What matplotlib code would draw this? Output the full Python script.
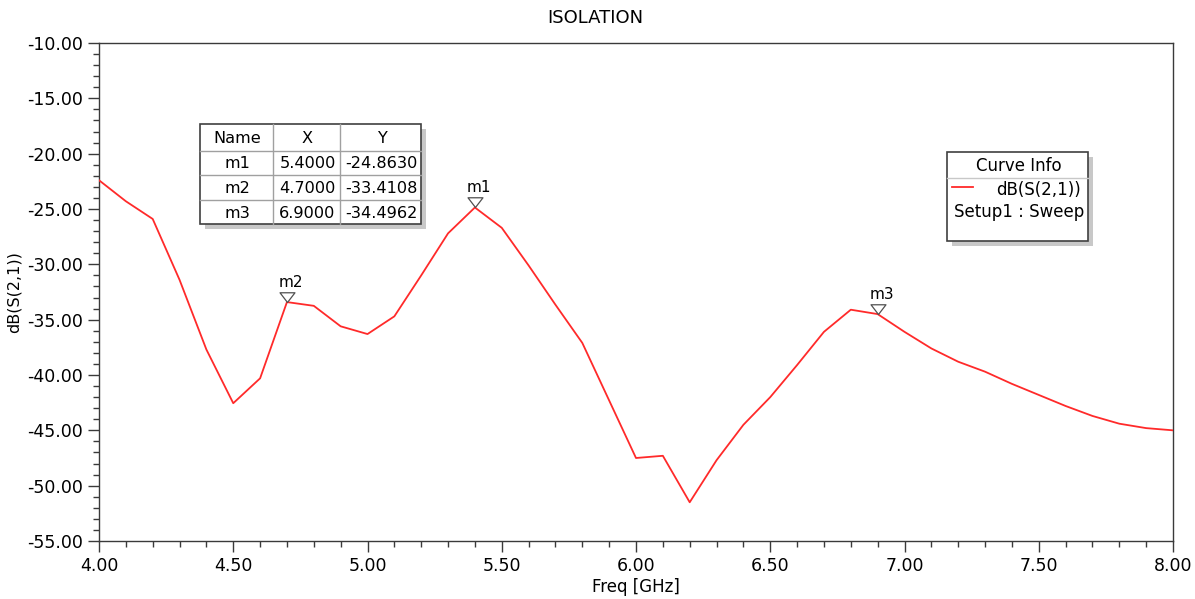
import matplotlib
matplotlib.use("Agg")
import matplotlib.pyplot as plt
from matplotlib.patches import Rectangle
from matplotlib.lines import Line2D
from matplotlib.path import Path
import numpy as np

plt.rcParams['font.family'] = ['DejaVu Sans']

# Swept S21 isolation, 4-8 GHz in 0.1 GHz steps
freq_ghz = [4.0, 4.1, 4.2, 4.3, 4.4, 4.5, 4.6, 4.7, 4.8, 4.9,
            5.0, 5.1, 5.2, 5.3, 5.4, 5.5, 5.6, 5.7, 5.8, 5.9,
            6.0, 6.1, 6.2, 6.3, 6.4, 6.5, 6.6, 6.7, 6.8, 6.9,
            7.0, 7.1, 7.2, 7.3, 7.4, 7.5, 7.6, 7.7, 7.8, 7.9, 8.0]
s21_db = [-22.4, -24.3, -25.9, -31.4, -37.7, -42.55, -40.3, -33.4108, -33.75, -35.6,
          -36.3, -34.7, -31.0, -27.2, -24.8630, -26.7, -30.1, -33.65, -37.1, -42.3,
          -47.5, -47.3, -51.5, -47.7, -44.5, -42.0, -39.1, -36.1, -34.1, -34.4962,
          -36.1, -37.6, -38.8, -39.7, -40.8, -41.8, -42.8, -43.7, -44.4, -44.8, -45.0]

marker_names = ["m1", "m2", "m3"]
marker_x = [5.4, 4.7, 6.9]
marker_y = [-24.8630, -33.4108, -34.4962]

W, H = 1195, 599
fig = plt.figure(figsize=(W / 100, H / 100), dpi=100)


def fx(x):
    return x / W


def fy(y):
    return 1 - y / H


ax = fig.add_axes([fx(99), fy(541), fx(1173) - fx(99), fy(43) - fy(541)])
edge = '#3a3a3a'

ax.plot(freq_ghz, s21_db, color='#ff2a2a', lw=1.3, zorder=3)

ax.set_xlim(4.0, 8.0)
ax.set_ylim(-55, -10)
ax.set_xticks(np.arange(4.0, 8.01, 0.5))
ax.set_xticks(np.arange(4.0, 8.01, 0.1), minor=True)
ax.set_yticks(np.arange(-55, -9.9, 5))
ax.set_yticks(np.arange(-55, -9.9, 1), minor=True)
ax.xaxis.set_major_formatter(matplotlib.ticker.FormatStrFormatter('%.2f'))
ax.yaxis.set_major_formatter(matplotlib.ticker.FormatStrFormatter('%.2f'))
ax.tick_params(which='both', direction='out', colors=edge, labelcolor='black',
               labelsize=12.5, width=1.0)
ax.tick_params(which='major', length=8)
ax.tick_params(which='minor', length=4)
for sp in ax.spines.values():
    sp.set_color(edge)
    sp.set_linewidth(1.0)

ax.set_xlabel('Freq [GHz]', fontsize=12, labelpad=2)
ax.set_ylabel('dB(S(2,1))', fontsize=11.5, labelpad=4)
fig.text(fx(595), fy(18), 'ISOLATION', ha='center', va='center', fontsize=13)

# Open marker triangles with their tips on the curve
tri = Path([(-1.0, 1.3), (1.0, 1.3), (0.0, 0.0), (-1.0, 1.3)],
           [Path.MOVETO, Path.LINETO, Path.LINETO, Path.CLOSEPOLY])
ax.plot(marker_x, marker_y, linestyle='none', marker=tri, markersize=14,
        markerfacecolor='white', markeredgecolor='#505050', markeredgewidth=0.9,
        zorder=4, clip_on=False)
for name, mx, my in zip(marker_names, marker_x, marker_y):
    ax.annotate(name, (mx, my), xytext=(3, 9), textcoords='offset points',
                ha='center', va='bottom', fontsize=11, zorder=5)


def box_with_shadow(x0, y0, x1, y1):
    fig.patches.append(Rectangle((fx(x0 + 5), fy(y1 + 5)), fx(x1 - x0), fy(y0) - fy(y1),
                                 transform=fig.transFigure, facecolor='#c8c8c8',
                                 edgecolor='none', zorder=5))
    fig.patches.append(Rectangle((fx(x0), fy(y1)), fx(x1 - x0), fy(y0) - fy(y1),
                                 transform=fig.transFigure, facecolor='white',
                                 edgecolor='#404040', linewidth=1.2, zorder=6))


def hline(x0, x1, y, color='#a0a0a0'):
    fig.lines.append(Line2D([fx(x0), fx(x1)], [fy(y), fy(y)], transform=fig.transFigure,
                            color=color, lw=1.0, zorder=7))


def vline(x, y0, y1, color='#a0a0a0'):
    fig.lines.append(Line2D([fx(x), fx(x)], [fy(y0), fy(y1)], transform=fig.transFigure,
                            color=color, lw=1.0, zorder=7))


# Marker table
tx0, tx1, ty0, ty1 = 200, 421, 124, 224
box_with_shadow(tx0, ty0, tx1, ty1)
col_edges = [tx0, 273, 340, tx1]
row_edges = [ty0, 151, 175, 200, ty1]
for c in col_edges[1:-1]:
    vline(c, ty0, ty1)
for r in row_edges[1:-1]:
    hline(tx0, tx1, r)
rows = [["Name", "X", "Y"]] + [[n, f"{x:.4f}", f"{y:.4f}"]
                               for n, x, y in zip(marker_names, marker_x, marker_y)]
for ri, row in enumerate(rows):
    yc = (row_edges[ri] + row_edges[ri + 1]) / 2 + 1
    for ci, txt in enumerate(row):
        xc = (col_edges[ci] + col_edges[ci + 1]) / 2 + 1
        fig.text(fx(xc), fy(yc), txt, ha='center', va='center', fontsize=11.6, zorder=8)

# Curve info legend
lx0, lx1, ly0, ly1 = 947, 1088, 152, 241
box_with_shadow(lx0, ly0, lx1, ly1)
hline(lx0, lx1, 178, color='#c8c8c8')
fig.text(fx((lx0 + lx1) / 2 + 1), fy(166), 'Curve Info', ha='center', va='center',
         fontsize=12, zorder=8)
fig.lines.append(Line2D([fx(952), fx(973)], [fy(187), fy(187)], transform=fig.transFigure,
                        color='#ff2a2a', lw=1.3, zorder=8))
fig.text(fx(1081), fy(190), 'dB(S(2,1))', ha='right', va='center', fontsize=12, zorder=8)
fig.text(fx(1084), fy(212), 'Setup1 : Sweep', ha='right', va='center', fontsize=12, zorder=8)

fig.savefig('out.png', dpi=100)
